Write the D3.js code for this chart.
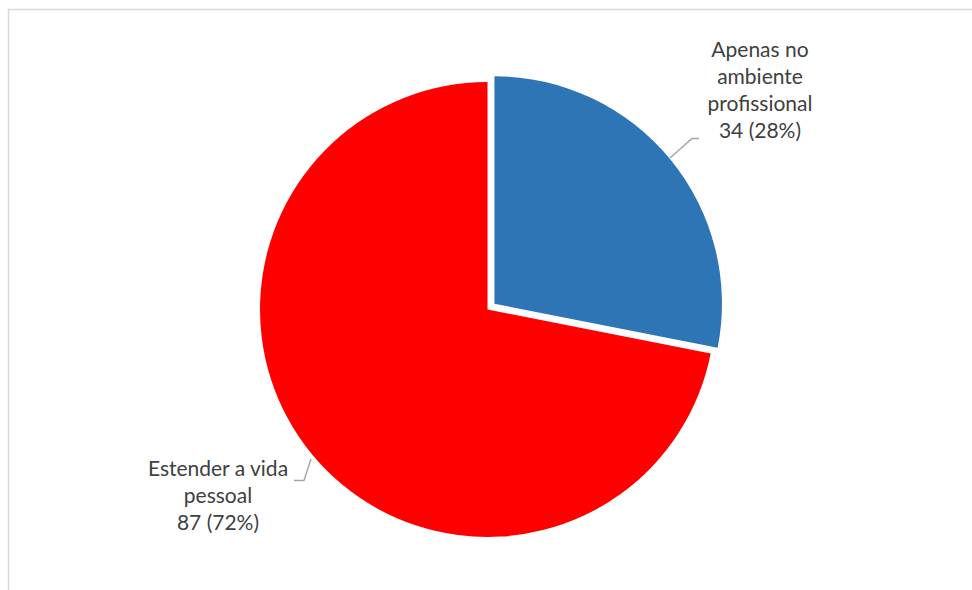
<!DOCTYPE html>
<html>
<head>
<meta charset="utf-8">
<script src="https://cdn.jsdelivr.net/npm/d3@7"></script>
<style>
  html, body { margin: 0; padding: 0; background: #fff; }
  svg { display: block; }
</style>
</head>
<body>
<svg id="chart" width="972" height="590"></svg>
<script>
// Responses: keep the social network use professional or extend it to personal life
const categories = ["Apenas no ambiente profissional", "Estender a vida pessoal"];
const values = [34, 87];
const percents = ["28%", "72%"];
const labelLines = [
  ["Apenas no", "ambiente", "profissional", "34 (28%)"],
  ["Estender a vida", "pessoal", "87 (72%)"]
];
const colors = ["#2e75b6", "#ff0000"];

const svg = d3.select("#chart");
const W = 972, H = 590;

// chart area frame
svg.append("rect")
  .attr("x", 8.5).attr("y", 9.5)
  .attr("width", W + 10).attr("height", H + 10)
  .attr("fill", "#fff")
  .attr("stroke", "#d9d9d9")
  .attr("stroke-width", 1.5);

const cx = 487.5, cy = 309.5, r = 227.5, explode = 9;

const pie = d3.pie().sort(null).value(d => d);
const arcs = pie(values);
const arc = d3.arc().innerRadius(0).outerRadius(r);

const g = svg.append("g").attr("transform", `translate(${cx},${cy})`);

g.selectAll("path.slice")
  .data(arcs)
  .join("path")
  .attr("class", "slice")
  .attr("fill", (d, i) => colors[i])
  .attr("transform", (d, i) => {
    if (i !== 0) return null;
    const a = (d.startAngle + d.endAngle) / 2;
    return `translate(${explode * Math.sin(a)},${-explode * Math.cos(a)})`;
  })
  .attr("d", arc);

// leader lines
const leader = svg.append("g")
  .attr("fill", "none")
  .attr("stroke", "#a6a6a6")
  .attr("stroke-width", 1.5);
leader.append("polyline").attr("points", "670,158 692,138.5 699,138.5");
leader.append("polyline").attr("points", "311,459 304,480.5 294,480.5");

// data labels
const labelPos = [
  { x: 760, y: 50 },
  { x: 218, y: 469 }
];
const lineH = 27;
labelLines.forEach((lines, i) => {
  const t = svg.append("text")
    .attr("text-anchor", "middle")
    .attr("font-family", "Lato, 'Open Sans', sans-serif")
    .attr("font-size", 21)
    .attr("fill", "#404040");
  lines.forEach((s, j) => {
    t.append("tspan")
      .attr("x", labelPos[i].x)
      .attr("y", labelPos[i].y + j * lineH)
      .attr("dy", "0.35em")
      .text(s);
  });
});
</script>
</body>
</html>
